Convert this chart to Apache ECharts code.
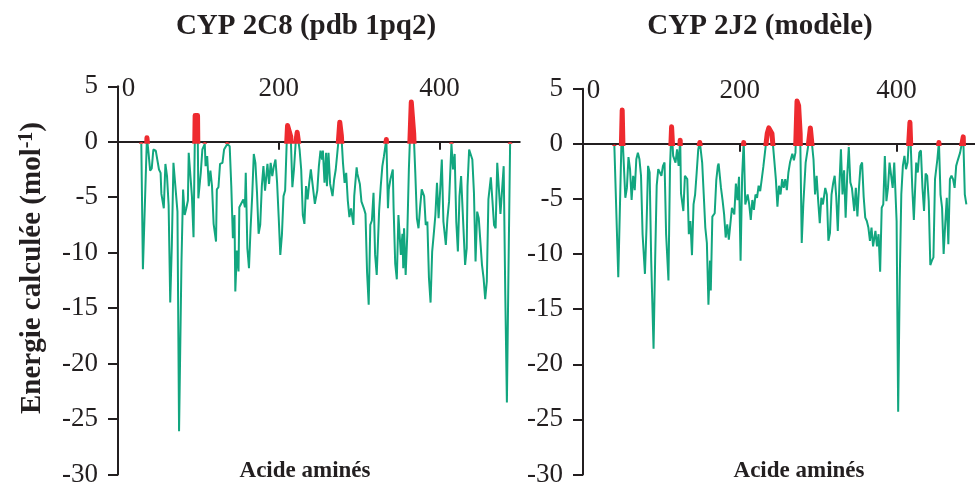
<!DOCTYPE html>
<html><head><meta charset="utf-8">
<script src="https://cdn.jsdelivr.net/npm/echarts@6/dist/echarts.min.js"></script>
<style>html,body{margin:0;padding:0;background:#fff}#c{width:975px;height:488px}</style>
</head><body><div id="c"></div>
<script>
const titles = ['CYP 2C8 (pdb 1pq2)', 'CYP 2J2 (modèle)'];
const xName = 'Acide aminés';
const yName = ['Energie calculée (mol', '-1', ')'];
const xTicks = [0, 200, 400];

const res2C8 = [29,31,36,38,40,42,44,47,49,51,
 53,54,55,57,59,61,63,65,67,69,
 71,74,76,79,81,83,85,87,88,90,
 92,94,96,97,99,100,103,105,108,109,
 111,113,115,117,119,122,123,125,127,130,
 132,136,139,141,143,145,146,148,150,151,
 153,156,158,159,161,163,165,167,169,171,
 173,175,177,179,181,183,186,188,190,192,
 194,196,198,200,202,204,206,208,210,211,
 213,215,217,219,221,223,224,226,228,230,
 232,234,236,238,240,242,245,248,250,252,
 254,255,257,259,260,262,264,267,269,271,
 274,276,277,278,280,282,284,286,288,290,
 293,294,297,298,301,303,306,308,310,312,
 314,316,318,320,322,325,327,329,331,334,
 336,337,339,342,343,345,347,349,352,354,
 355,356,358,360,362,365,366,368,370,372,
 374,376,378,381,383,385,387,389,391,393,
 395,397,399,401,403,405,408,410,412,414,
 415,417,419,421,423,425,427,429,432,434,
 435,437,439,441,443,445,447,449,451,453,
 455,457,459,461,464,466,468,470,472,474,
 476,478,480,482,484,486,488];
const nrg2C8 = [-0.2,-11.5,0.4,-1.0,-2.6,-2.4,-0.7,-0.8,-0.7,-2.5,
 -2.8,-4.7,-4.8,-6.0,-2.0,-3.1,-5.7,-14.5,-9.3,-1.9,
 -1.9,-6.3,-26.1,-10.8,-4.3,-6.6,-6.0,-5.3,-1.0,-1.0,
 -4.9,-8.6,2.4,2.5,2.4,-5.1,-2.8,-0.7,-0.2,-2.2,
 -1.3,-4.0,-2.6,-4.0,-7.4,-9.0,-4.3,-4.1,-2.0,-1.9,
 -0.7,-0.2,-0.4,-4.0,-8.7,-6.6,-13.5,-9.8,-11.7,-5.9,
 -5.9,-5.2,-5.9,-2.8,-9.6,-11.4,-7.8,-4.9,-1.1,-1.9,
 -4.6,-8.3,-7.5,-4.0,-2.2,-4.4,-2.0,-3.8,-1.9,-3.1,
 -2.2,-1.6,-3.7,-6.8,-10.2,-8.4,-4.9,-4.4,0,1.5,
 1.6,0.5,-4.1,-2.5,-0.2,0.9,0.8,-0.7,-2.5,-6.6,
 -7.4,-4.0,-5.2,-3.7,-2.5,-2.6,-5.6,-4.4,-2.2,-0.8,
 -1.6,-0.8,-3.7,-1.0,-4.0,-1.0,-3.8,-4.9,-3.4,-2.5,
 -0.2,1.8,1.8,0.6,-1.9,-3.7,-2.8,-5.3,-6.8,-6.0,
 -7.5,-4.9,-2.3,-2.9,-3.8,-5.4,-6.0,-6.5,-11.8,-14.7,
 -7.5,-7.1,-4.6,-10.2,-12.0,-6.2,-4.0,-2.2,-1.3,0.25,
 -6.0,-4.3,-3.4,-2.5,-6.0,-11.0,-12.4,-6.6,-10.2,-8.3,
 -11.4,-7.8,-12.0,-8.4,-2.5,3.6,3.5,0.8,-2.8,-6.9,
 -7.8,-5.9,-4.3,-4.9,-7.5,-7.2,-12.3,-14.5,-9.9,-8.3,
 -6.6,-3.7,-6.9,-4.3,-1.6,-7.2,-9.3,-6.9,-5.4,-1.9,
 -0.2,-2.5,-1.1,-7.2,-9.9,-4.9,-3.1,-6.3,-11.1,-9.6,
 -4.0,-0.7,-0.7,-1.6,-4.6,-10.8,-6.3,-6.9,-9.0,-11.1,
 -12.3,-14.2,-12.6,-5.2,-3.2,-5.3,-7.5,-7.8,-1.9,-1.9,
 -6.5,-6.5,-2.2,-13.8,-23.5,-11.4,-0.2];

const res2J2 = [40,45,50,51,54,56,58,60,62,64,
 66,68,70,72,74,76,79,81,83,85,
 87,90,92,94,96,98,100,102,104,106,
 109,111,113,115,118,120,122,124,125,128,
 130,133,135,137,139,141,143,145,147,149,
 152,154,156,158,160,162,163,165,168,170,
 172,173,176,178,180,182,184,186,188,190,
 193,195,197,199,201,203,205,207,210,212,
 214,216,218,220,222,224,226,228,230,233,
 235,237,239,241,244,246,248,250,252,254,
 256,258,260,262,264,267,269,271,273,275,
 277,279,281,284,287,290,292,294,296,298,
 300,302,304,306,309,311,313,315,317,319,
 321,323,325,327,329,331,333,335,337,339,
 341,343,346,348,350,352,354,356,358,360,
 362,364,366,368,370,373,375,377,379,381,
 383,385,387,389,391,393,395,397,400,402,
 404,406,408,410,412,414,417,420,422,425,
 427,429,431,433,435,437,439,441,443,445,
 447,449,452,454,456,458,460,462,464,466,
 468,470,472,474,476,478,481,485,487,489];
const nrg2J2 = [-0.2,-12.1,3.1,-0.2,-4.9,-4.0,-1.2,-2.3,-5.1,-2.9,
 -4.2,-1.4,-0.8,-1.4,-2.9,-8.2,-11.8,-7.6,-2.0,-2.6,
 -10.6,-18.6,-10.6,-3.8,-2.3,-2.4,-2.9,-2.0,-1.7,-8.2,
 -12.4,-2.0,1.6,-1.1,-1.7,-0.5,-2.0,0.4,-4.5,-6.1,
 -2.9,-3.2,-8.2,-7.0,-10.1,-5.5,-4.6,-2.6,-0.5,0.2,
 -1.7,-4.6,-7.6,-9.0,-14.6,-10.6,-13.3,-6.6,-6.3,-3.3,
 -2.0,-1.8,-4.0,-5.1,-6.4,-8.5,-7.3,-8.7,-8.8,-5.8,
 -6.4,-3.6,-5.1,-3.0,-10.6,-2.9,0.2,-5.5,-4.6,-5.5,
 -6.9,-5.1,-6.0,-4.6,-4.9,-3.8,-4.3,-3.2,-2.1,-0.2,
 1.0,1.5,1.6,1.0,-1.5,-3.2,-5.7,-3.8,-4.6,-3.2,
 -4.0,-3.2,-4.2,-2.6,-1.7,-0.9,-1.5,-0.8,3.9,3.5,
 1.0,-9.0,-5.5,-1.7,-0.3,1.5,1.4,-1.4,-4.6,-2.9,
 -5.2,-7.2,-4.9,-5.5,-4.0,-4.6,-8.8,-8.1,-4.6,-3.6,
 -2.9,-4.8,-7.9,-3.8,-0.5,-4.6,-2.4,-6.7,-2.9,-0.3,
 -3.5,-4.0,-6.1,-4.0,-6.6,-4.0,-2.0,-1.7,-4.8,-6.7,
 -7.0,-7.6,-8.8,-7.6,-9.3,-7.9,-9.3,-8.2,-11.6,-5.8,
 -5.5,-1.1,-5.2,-4.0,-1.7,-1.7,-4.0,-1.7,-7.0,-24.3,
 -12.4,-4.6,-2.0,-1.1,-2.3,-1.7,2.0,-4.0,-6.9,-1.7,
 -2.6,-0.8,-0.6,-4.0,-6.1,-2.7,-2.9,-5.2,-11.0,-10.6,
 -10.3,-3.2,-1.4,0.2,-4.6,-5.8,-10.0,-7.3,-4.9,-9.1,
 -3.2,-2.9,-3.2,-4.0,-2.0,-1.5,-0.8,0.7,-4.6,-5.5];

function pairs(r, e) { return r.map((x, i) => [x, e[i]]); }
const FONT = '"Liberation Serif", "Times New Roman", serif';
const INK = '#231f20';
const GREEN = '#12a67f';
const RED = '#ee2a2f';

const panels = [
  { left: 118, top: 86.3, width: 401.75, data: pairs(res2C8, nrg2C8), tx: 306, ax: 305 },
  { left: 583, top: 88.7, width: 400, data: pairs(res2J2, nrg2J2), tx: 760, ax: 799 }
];

const grids = [], xAxes = [], yAxes = [], series = [], graphics = [];
panels.forEach((p, i) => {
  const g = grids.length;
  grids.push({ left: p.left, top: p.top, width: p.width, height: 392 });
  grids.push({ left: p.left, top: p.top, width: p.width, height: 54.9 });
  xAxes.push({
    gridIndex: g, type: 'value', min: 0, max: 500, position: 'top',
    axisLine: { show: true, onZero: true, lineStyle: { color: INK, width: 2 } },
    axisTick: { show: true, inside: true, length: 8, customValues: xTicks, lineStyle: { color: INK, width: 2 } },
    axisLabel: {
      show: true, customValues: xTicks, margin: -16, fontFamily: FONT, fontSize: 27, color: INK,
      formatter: v => (v === 0 ? '{z|0}' : String(v)),
      rich: { z: { padding: [0, 0, 0, 21], fontFamily: FONT, fontSize: 27, color: INK } }
    },
    splitLine: { show: false }
  });
  xAxes.push({ gridIndex: g + 1, type: 'value', min: 0, max: 500, show: false });
  yAxes.push({
    gridIndex: g, type: 'value', min: -30, max: 5, interval: 5,
    axisLine: { show: true, onZero: false, lineStyle: { color: INK, width: 2 } },
    axisTick: { show: true, inside: false, length: 10, lineStyle: { color: INK, width: 2 } },
    axisLabel: { margin: 20, fontFamily: FONT, fontSize: 27, color: INK },
    splitLine: { show: false }
  });
  yAxes.push({ gridIndex: g + 1, type: 'value', min: 0.1, max: 5, show: false });
  series.push({
    type: 'line', xAxisIndex: xAxes.length - 2, yAxisIndex: yAxes.length - 2,
    data: p.data, showSymbol: false, symbol: 'none', silent: true, animation: false,
    lineStyle: { color: GREEN, width: 2 }, z: 3
  });
  series.push({
    type: 'line', xAxisIndex: xAxes.length - 1, yAxisIndex: yAxes.length - 1,
    data: p.data, showSymbol: false, symbol: 'none', silent: true, animation: false, clip: true,
    lineStyle: { color: RED, width: 5, cap: 'round', join: 'round' }, z: 4
  });
  graphics.push({
    type: 'text', x: p.tx, y: 27,
    style: { text: titles[i], font: 'bold 29px ' + FONT, fill: INK, align: 'center', verticalAlign: 'middle', textAlign: 'center', textVerticalAlign: 'middle' }
  });
  graphics.push({
    type: 'text', x: p.ax, y: 471,
    style: { text: xName, font: 'bold 23px ' + FONT, fill: INK, align: 'center', verticalAlign: 'middle', textAlign: 'center', textVerticalAlign: 'middle' }
  });
});

graphics.push({
  type: 'text', x: 33, y: 268, rotation: Math.PI / 2,
  style: {
    text: '{a|' + yName[0] + '}{s|' + yName[1] + '}{a|' + yName[2] + '}',
    fill: INK, align: 'center', verticalAlign: 'middle', textAlign: 'center', textVerticalAlign: 'middle',
    rich: {
      a: { fontFamily: FONT, fontSize: 29, fontWeight: 'bold', fill: INK, color: INK, lineHeight: 32 },
      s: { fontFamily: FONT, fontSize: 20, fontWeight: 'bold', fill: INK, color: INK, lineHeight: 20, verticalAlign: 'top' }
    }
  }
});

const chart = echarts.init(document.getElementById('c'), null, { renderer: 'canvas' });
chart.setOption({
  animation: false,
  backgroundColor: '#fff',
  grid: grids,
  xAxis: xAxes,
  yAxis: yAxes,
  series: series,
  graphic: graphics
});
</script>
</body></html>
